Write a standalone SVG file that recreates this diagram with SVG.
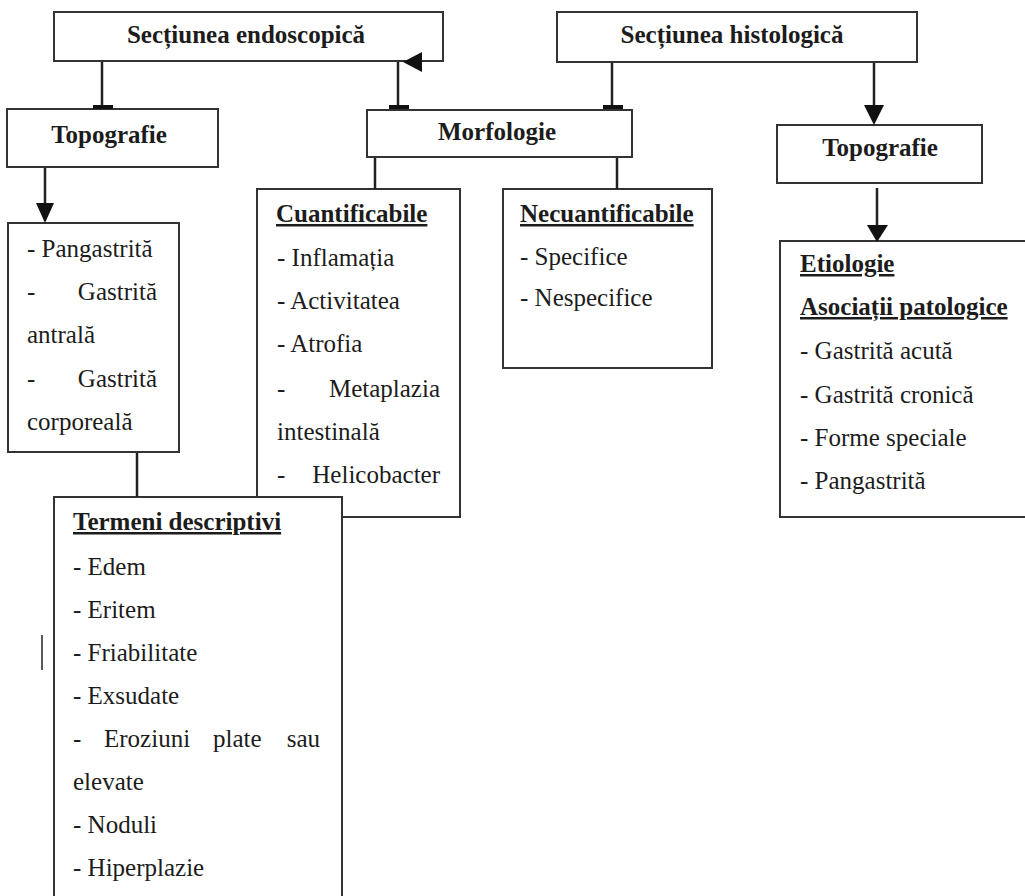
<svg xmlns="http://www.w3.org/2000/svg" width="1025" height="896" viewBox="0 0 1025 896">
<style>
.box{fill:#fff;stroke:#333;stroke-width:2}
.t{font-family:"Liberation Serif","Times New Roman",serif;font-size:25px;fill:#1c1c1c}
.b{font-weight:bold}
.c{text-anchor:middle}
.e{text-anchor:end}
.u{text-decoration:underline}
.ln{stroke:#222;stroke-width:2.5;fill:none}
.ah{fill:#111}
</style>
<rect width="1025" height="896" fill="#fff"/>

<g id="sectiunea-endoscopica">
  <rect class="box" x="54" y="12" width="389" height="49"/>
  <text class="t b c" x="246" y="43">Secțiunea endoscopică</text>
</g>

<g id="sectiunea-histologica">
  <rect class="box" x="557" y="12" width="360" height="50"/>
  <text class="t b c" x="732" y="43">Secțiunea histologică</text>
</g>

<g id="topografie-stanga">
  <rect class="box" x="7" y="109" width="211" height="58"/>
  <text class="t b c" x="109" y="143">Topografie</text>
</g>

<g id="morfologie">
  <rect class="box" x="367" y="110" width="265" height="47"/>
  <text class="t b c" x="497" y="140">Morfologie</text>
</g>

<g id="topografie-dreapta">
  <rect class="box" x="777" y="125" width="205" height="58"/>
  <text class="t b c" x="880" y="156">Topografie</text>
</g>

<g id="lista-topografie">
  <rect class="box" x="8" y="223" width="171" height="229"/>
  <text class="t" x="27" y="257">- Pangastrită</text>
  <text class="t" x="27" y="300">-</text>
  <text class="t e" x="157" y="300">Gastrită</text>
  <text class="t" x="27" y="343">antrală</text>
  <text class="t" x="27" y="387">-</text>
  <text class="t e" x="157" y="387">Gastrită</text>
  <text class="t" x="27" y="430">corporeală</text>
</g>

<g id="cuantificabile">
  <rect class="box" x="257" y="189" width="203" height="328"/>
  <text class="t b u" x="276" y="222">Cuantificabile</text>
  <text class="t" x="277" y="266">- Inflamația</text>
  <text class="t" x="277" y="309">- Activitatea</text>
  <text class="t" x="277" y="352">- Atrofia</text>
  <text class="t" x="277" y="397">-</text>
  <text class="t e" x="440" y="397">Metaplazia</text>
  <text class="t" x="277" y="440">intestinală</text>
  <text class="t" x="277" y="483">-</text>
  <text class="t e" x="440" y="483">Helicobacter</text>
</g>

<g id="necuantificabile">
  <rect class="box" x="503" y="189" width="209" height="179"/>
  <text class="t b u" x="520" y="222">Necuantificabile</text>
  <text class="t" x="520" y="265">- Specifice</text>
  <text class="t" x="520" y="306">- Nespecifice</text>
</g>

<g id="etiologie">
  <rect class="box" x="780" y="241" width="260" height="276"/>
  <text class="t b u" x="800" y="272">Etiologie</text>
  <text class="t b u" x="800" y="315">Asociații patologice</text>
  <text class="t" x="800" y="359">- Gastrită acută</text>
  <text class="t" x="800" y="403">- Gastrită cronică</text>
  <text class="t" x="800" y="446">- Forme speciale</text>
  <text class="t" x="800" y="489">- Pangastrită</text>
</g>

<g id="termeni-descriptivi">
  <rect class="box" x="54" y="497" width="288" height="420"/>
  <text class="t b u" x="73" y="530">Termeni descriptivi</text>
  <text class="t" x="73" y="575">- Edem</text>
  <text class="t" x="73" y="618">- Eritem</text>
  <text class="t" x="73" y="661">- Friabilitate</text>
  <text class="t" x="73" y="704">- Exsudate</text>
  <text class="t" x="73" y="747">-</text>
  <text class="t" x="104" y="747">Eroziuni</text>
  <text class="t" x="213" y="747">plate</text>
  <text class="t e" x="320" y="747">sau</text>
  <text class="t" x="73" y="790">elevate</text>
  <text class="t" x="73" y="833">- Noduli</text>
  <text class="t" x="73" y="876">- Hiperplazie</text>
</g>

<g id="connectors">
  <line class="ln" x1="102" y1="62" x2="102" y2="107"/>
  <rect class="ah" x="93" y="105" width="20" height="4"/>
  <line class="ln" x1="398" y1="109" x2="398" y2="62"/>
  <polygon class="ah" points="403,62 422,52 422,72"/>
  <rect class="ah" x="389" y="105" width="20" height="4"/>
  <line class="ln" x1="612" y1="63" x2="612" y2="107"/>
  <rect class="ah" x="603" y="105" width="20" height="4"/>
  <line class="ln" x1="874" y1="63" x2="874" y2="108"/>
  <polygon class="ah" points="864,105 884,105 874,125"/>
  <line class="ln" x1="877" y1="188" x2="877" y2="228"/>
  <polygon class="ah" points="867,225 888,225 877,242"/>
  <line class="ln" x1="45" y1="168" x2="45" y2="206"/>
  <polygon class="ah" points="36,203 54,203 45,223"/>
  <line class="ln" x1="375" y1="158" x2="375" y2="189"/>
  <line class="ln" x1="617" y1="158" x2="617" y2="189"/>
  <line class="ln" x1="137" y1="453" x2="137" y2="497"/>
  <line class="ln" x1="42" y1="635" x2="42" y2="670" style="stroke-width:1.5"/>
</g>
</svg>
